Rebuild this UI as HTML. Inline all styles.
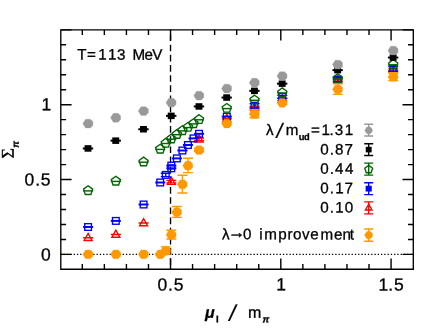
<!DOCTYPE html>
<html><head><meta charset="utf-8"><title>chart</title>
<style>html,body{margin:0;padding:0;background:#fff;}body{width:436px;height:331px;overflow:hidden;font-family:"Liberation Sans",sans-serif;}</style></head>
<body>
<svg width="436" height="331" viewBox="0 0 436 331" font-family="'Liberation Sans', sans-serif" style="display:block;will-change:transform">
<rect width="436" height="331" fill="#fff"/>
<line x1="60.54" y1="254.40" x2="413.30" y2="254.40" stroke="#000" stroke-width="1.3" stroke-dasharray="1.3 1.97"/>
<line x1="170.53" y1="29.80" x2="170.53" y2="269.20" stroke="#000" stroke-width="1.35" stroke-dasharray="6.6 3.57" stroke-dashoffset="5.45"/>
<g>
<path d="M88.10 233.40L92.10 240.50H84.10Z" stroke="#ff0000" stroke-width="1.35" fill="none" stroke-linejoin="miter"/>
<path d="M83.10 237.80H93.10" stroke="#ff0000" stroke-width="1.50" fill="none"/>
<path d="M115.84 230.10L119.84 237.20H111.84Z" stroke="#ff0000" stroke-width="1.35" fill="none" stroke-linejoin="miter"/>
<path d="M110.84 234.50H120.84" stroke="#ff0000" stroke-width="1.50" fill="none"/>
<path d="M143.57 218.60L147.57 225.70H139.57Z" stroke="#ff0000" stroke-width="1.35" fill="none" stroke-linejoin="miter"/>
<path d="M138.57 223.00H148.57" stroke="#ff0000" stroke-width="1.50" fill="none"/>
<path d="M171.31 177.20L175.31 184.30H167.31Z" stroke="#ff0000" stroke-width="1.35" fill="none" stroke-linejoin="miter"/>
<path d="M171.31 180.40V182.80M166.31 180.40H176.31M166.31 182.80H176.31" stroke="#ff0000" stroke-width="1.35" fill="none"/>
<path d="M199.05 134.90L203.05 142.00H195.05Z" stroke="#ff0000" stroke-width="1.35" fill="none" stroke-linejoin="miter"/>
<path d="M199.05 138.00V140.60M194.05 138.00H204.05M194.05 140.60H204.05" stroke="#ff0000" stroke-width="1.35" fill="none"/>
<path d="M226.79 114.40L230.79 121.50H222.79Z" stroke="#ff0000" stroke-width="1.35" fill="none" stroke-linejoin="miter"/>
<path d="M221.79 118.80H231.79" stroke="#ff0000" stroke-width="1.50" fill="none"/>
<path d="M254.52 103.40L258.52 110.50H250.52Z" stroke="#ff0000" stroke-width="1.35" fill="none" stroke-linejoin="miter"/>
<path d="M254.52 106.50V109.10M249.52 106.50H259.52M249.52 109.10H259.52" stroke="#ff0000" stroke-width="1.35" fill="none"/>
<path d="M282.26 94.90L286.26 102.00H278.26Z" stroke="#ff0000" stroke-width="1.35" fill="none" stroke-linejoin="miter"/>
<path d="M282.26 98.10V100.50M277.26 98.10H287.26M277.26 100.50H287.26" stroke="#ff0000" stroke-width="1.35" fill="none"/>
<path d="M337.74 75.60L341.74 82.70H333.74Z" stroke="#ff0000" stroke-width="1.35" fill="none" stroke-linejoin="miter"/>
<path d="M332.74 80.00H342.74" stroke="#ff0000" stroke-width="1.50" fill="none"/>
<path d="M393.21 65.60L397.21 72.70H389.21Z" stroke="#ff0000" stroke-width="1.35" fill="none" stroke-linejoin="miter"/>
<path d="M393.21 68.80V71.20M388.21 68.80H398.21M388.21 71.20H398.21" stroke="#ff0000" stroke-width="1.35" fill="none"/>
<rect x="84.75" y="223.65" width="6.70" height="6.70" stroke="#0000ff" stroke-width="1.35" fill="none"/>
<path d="M83.10 227.00H93.10" stroke="#0000ff" stroke-width="1.95" fill="none"/>
<rect x="112.49" y="217.55" width="6.70" height="6.70" stroke="#0000ff" stroke-width="1.35" fill="none"/>
<path d="M110.84 220.90H120.84" stroke="#0000ff" stroke-width="1.95" fill="none"/>
<rect x="140.22" y="201.15" width="6.70" height="6.70" stroke="#0000ff" stroke-width="1.35" fill="none"/>
<path d="M138.57 204.50H148.57" stroke="#0000ff" stroke-width="1.95" fill="none"/>
<rect x="156.87" y="179.15" width="6.70" height="6.70" stroke="#0000ff" stroke-width="1.35" fill="none"/>
<path d="M155.22 182.50H165.22" stroke="#0000ff" stroke-width="1.95" fill="none"/>
<rect x="162.41" y="171.55" width="6.70" height="6.70" stroke="#0000ff" stroke-width="1.35" fill="none"/>
<path d="M165.76 173.20V176.60M160.76 173.20H170.76M160.76 176.60H170.76" stroke="#0000ff" stroke-width="1.35" fill="none"/>
<rect x="167.96" y="164.95" width="6.70" height="6.70" stroke="#0000ff" stroke-width="1.35" fill="none"/>
<path d="M166.31 168.30H176.31" stroke="#0000ff" stroke-width="1.95" fill="none"/>
<rect x="167.96" y="162.25" width="6.70" height="6.70" stroke="#0000ff" stroke-width="1.35" fill="none"/>
<path d="M166.31 165.60H176.31" stroke="#0000ff" stroke-width="1.95" fill="none"/>
<rect x="173.51" y="155.05" width="6.70" height="6.70" stroke="#0000ff" stroke-width="1.35" fill="none"/>
<path d="M171.86 158.40H181.86" stroke="#0000ff" stroke-width="1.95" fill="none"/>
<rect x="179.06" y="147.15" width="6.70" height="6.70" stroke="#0000ff" stroke-width="1.35" fill="none"/>
<path d="M177.41 150.50H187.41" stroke="#0000ff" stroke-width="1.95" fill="none"/>
<rect x="184.60" y="141.65" width="6.70" height="6.70" stroke="#0000ff" stroke-width="1.35" fill="none"/>
<path d="M182.95 145.00H192.95" stroke="#0000ff" stroke-width="1.95" fill="none"/>
<rect x="190.15" y="135.05" width="6.70" height="6.70" stroke="#0000ff" stroke-width="1.35" fill="none"/>
<path d="M188.50 138.40H198.50" stroke="#0000ff" stroke-width="1.95" fill="none"/>
<rect x="195.70" y="130.45" width="6.70" height="6.70" stroke="#0000ff" stroke-width="1.35" fill="none"/>
<path d="M194.05 133.80H204.05" stroke="#0000ff" stroke-width="1.95" fill="none"/>
<rect x="223.44" y="113.25" width="6.70" height="6.70" stroke="#0000ff" stroke-width="1.35" fill="none"/>
<path d="M221.79 116.60H231.79" stroke="#0000ff" stroke-width="1.95" fill="none"/>
<rect x="251.17" y="102.35" width="6.70" height="6.70" stroke="#0000ff" stroke-width="1.35" fill="none"/>
<path d="M254.52 103.60V107.80M249.52 103.60H259.52M249.52 107.80H259.52" stroke="#0000ff" stroke-width="1.35" fill="none"/>
<rect x="278.91" y="93.45" width="6.70" height="6.70" stroke="#0000ff" stroke-width="1.35" fill="none"/>
<path d="M282.26 95.30V98.30M277.26 95.30H287.26M277.26 98.30H287.26" stroke="#0000ff" stroke-width="1.35" fill="none"/>
<rect x="334.38" y="76.25" width="6.70" height="6.70" stroke="#0000ff" stroke-width="1.35" fill="none"/>
<path d="M337.74 77.60V81.60M332.74 77.60H342.74M332.74 81.60H342.74" stroke="#0000ff" stroke-width="1.35" fill="none"/>
<rect x="389.86" y="65.45" width="6.70" height="6.70" stroke="#0000ff" stroke-width="1.35" fill="none"/>
<path d="M393.21 66.50V71.10M388.21 66.50H398.21M388.21 71.10H398.21" stroke="#0000ff" stroke-width="1.35" fill="none"/>
<path d="M88.10 185.80L92.66 189.12L90.92 194.48L85.28 194.48L83.53 189.12Z" stroke="#006400" stroke-width="1.35" fill="none" stroke-linejoin="miter"/>
<path d="M83.10 190.90H93.10" stroke="#006400" stroke-width="1.45" fill="none"/>
<path d="M115.84 176.30L120.40 179.62L118.66 184.98L113.01 184.98L111.27 179.62Z" stroke="#006400" stroke-width="1.35" fill="none" stroke-linejoin="miter"/>
<path d="M110.84 181.40H120.84" stroke="#006400" stroke-width="1.45" fill="none"/>
<path d="M143.57 157.10L148.14 160.42L146.39 165.78L140.75 165.78L139.01 160.42Z" stroke="#006400" stroke-width="1.35" fill="none" stroke-linejoin="miter"/>
<path d="M138.57 162.20H148.57" stroke="#006400" stroke-width="1.45" fill="none"/>
<path d="M160.22 144.30L164.78 147.62L163.04 152.98L157.39 152.98L155.65 147.62Z" stroke="#006400" stroke-width="1.35" fill="none" stroke-linejoin="miter"/>
<path d="M155.22 149.40H165.22" stroke="#006400" stroke-width="1.45" fill="none"/>
<path d="M165.76 138.40L170.33 141.72L168.58 147.08L162.94 147.08L161.20 141.72Z" stroke="#006400" stroke-width="1.35" fill="none" stroke-linejoin="miter"/>
<path d="M160.76 143.50H170.76" stroke="#006400" stroke-width="1.45" fill="none"/>
<path d="M171.31 134.10L175.88 137.42L174.13 142.78L168.49 142.78L166.74 137.42Z" stroke="#006400" stroke-width="1.35" fill="none" stroke-linejoin="miter"/>
<path d="M166.31 139.20H176.31" stroke="#006400" stroke-width="1.45" fill="none"/>
<path d="M176.86 129.60L181.42 132.92L179.68 138.28L174.04 138.28L172.29 132.92Z" stroke="#006400" stroke-width="1.35" fill="none" stroke-linejoin="miter"/>
<path d="M171.86 134.70H181.86" stroke="#006400" stroke-width="1.45" fill="none"/>
<path d="M182.41 125.80L186.97 129.12L185.23 134.48L179.58 134.48L177.84 129.12Z" stroke="#006400" stroke-width="1.35" fill="none" stroke-linejoin="miter"/>
<path d="M177.41 130.90H187.41" stroke="#006400" stroke-width="1.45" fill="none"/>
<path d="M187.95 122.50L192.52 125.82L190.77 131.18L185.13 131.18L183.39 125.82Z" stroke="#006400" stroke-width="1.35" fill="none" stroke-linejoin="miter"/>
<path d="M182.95 127.60H192.95" stroke="#006400" stroke-width="1.45" fill="none"/>
<path d="M193.50 118.80L198.07 122.12L196.32 127.48L190.68 127.48L188.93 122.12Z" stroke="#006400" stroke-width="1.35" fill="none" stroke-linejoin="miter"/>
<path d="M188.50 123.90H198.50" stroke="#006400" stroke-width="1.45" fill="none"/>
<path d="M199.05 114.70L203.61 118.02L201.87 123.38L196.23 123.38L194.48 118.02Z" stroke="#006400" stroke-width="1.35" fill="none" stroke-linejoin="miter"/>
<path d="M194.05 119.80H204.05" stroke="#006400" stroke-width="1.45" fill="none"/>
<path d="M226.79 103.50L231.35 106.82L229.61 112.18L223.96 112.18L222.22 106.82Z" stroke="#006400" stroke-width="1.35" fill="none" stroke-linejoin="miter"/>
<path d="M221.79 108.60H231.79" stroke="#006400" stroke-width="1.45" fill="none"/>
<path d="M254.52 95.20L259.09 98.52L257.34 103.88L251.70 103.88L249.96 98.52Z" stroke="#006400" stroke-width="1.35" fill="none" stroke-linejoin="miter"/>
<path d="M249.52 100.30H259.52" stroke="#006400" stroke-width="1.45" fill="none"/>
<path d="M282.26 87.90L286.83 91.22L285.08 96.58L279.44 96.58L277.69 91.22Z" stroke="#006400" stroke-width="1.35" fill="none" stroke-linejoin="miter"/>
<path d="M277.26 93.00H287.26" stroke="#006400" stroke-width="1.45" fill="none"/>
<path d="M337.74 73.80L342.30 77.12L340.56 82.48L334.91 82.48L333.17 77.12Z" stroke="#006400" stroke-width="1.35" fill="none" stroke-linejoin="miter"/>
<path d="M332.74 78.90H342.74" stroke="#006400" stroke-width="1.45" fill="none"/>
<path d="M393.21 59.70L397.78 63.02L396.03 68.38L390.39 68.38L388.64 63.02Z" stroke="#006400" stroke-width="1.35" fill="none" stroke-linejoin="miter"/>
<path d="M388.21 64.80H398.21" stroke="#006400" stroke-width="1.45" fill="none"/>
<rect x="84.55" y="145.20" width="6.90" height="6.50" fill="#000"/>
<path d="M82.80 148.45H93.20" stroke="#000" stroke-width="1.95" fill="none"/>
<rect x="112.29" y="137.40" width="6.90" height="6.50" fill="#000"/>
<path d="M110.54 140.65H120.94" stroke="#000" stroke-width="1.95" fill="none"/>
<rect x="140.02" y="126.00" width="6.90" height="6.50" fill="#000"/>
<path d="M138.27 129.25H148.67" stroke="#000" stroke-width="1.95" fill="none"/>
<rect x="167.76" y="112.60" width="6.90" height="6.50" fill="#000"/>
<path d="M166.01 115.85H176.41" stroke="#000" stroke-width="1.95" fill="none"/>
<rect x="195.50" y="103.20" width="6.90" height="6.50" fill="#000"/>
<path d="M193.75 106.45H204.15" stroke="#000" stroke-width="1.95" fill="none"/>
<rect x="223.24" y="94.30" width="6.90" height="6.50" fill="#000"/>
<path d="M221.49 97.55H231.89" stroke="#000" stroke-width="1.95" fill="none"/>
<rect x="250.97" y="87.60" width="6.90" height="6.50" fill="#000"/>
<path d="M249.22 90.85H259.62" stroke="#000" stroke-width="1.95" fill="none"/>
<rect x="278.71" y="80.40" width="6.90" height="6.50" fill="#000"/>
<path d="M276.96 83.65H287.36" stroke="#000" stroke-width="1.95" fill="none"/>
<rect x="334.19" y="66.90" width="6.90" height="6.50" fill="#000"/>
<path d="M332.44 70.15H342.83" stroke="#000" stroke-width="1.95" fill="none"/>
<rect x="389.66" y="54.30" width="6.90" height="6.50" fill="#000"/>
<path d="M387.91 57.55H398.31" stroke="#000" stroke-width="1.95" fill="none"/>
<path d="M82.80 123.55L85.60 119.15L90.30 119.15L92.85 121.60L92.85 125.40L90.30 127.95L85.60 127.95Z" fill="#999999" stroke="#999999" stroke-width="0.3" stroke-linejoin="round"/>
<path d="M110.54 117.75L113.34 113.35L118.04 113.35L120.59 115.80L120.59 119.60L118.04 122.15L113.34 122.15Z" fill="#999999" stroke="#999999" stroke-width="0.3" stroke-linejoin="round"/>
<path d="M138.27 111.05L141.07 106.65L145.77 106.65L148.32 109.10L148.32 112.90L145.77 115.45L141.07 115.45Z" fill="#999999" stroke="#999999" stroke-width="0.3" stroke-linejoin="round"/>
<path d="M166.01 102.65L168.81 98.25L173.51 98.25L176.06 100.70L176.06 104.50L173.51 107.05L168.81 107.05Z" fill="#999999" stroke="#999999" stroke-width="0.3" stroke-linejoin="round"/>
<path d="M193.75 95.65L196.55 91.25L201.25 91.25L203.80 93.70L203.80 97.50L201.25 100.05L196.55 100.05Z" fill="#999999" stroke="#999999" stroke-width="0.3" stroke-linejoin="round"/>
<path d="M221.49 88.55L224.29 84.15L228.99 84.15L231.54 86.60L231.54 90.40L228.99 92.95L224.29 92.95Z" fill="#999999" stroke="#999999" stroke-width="0.3" stroke-linejoin="round"/>
<path d="M249.22 82.65L252.02 78.25L256.72 78.25L259.27 80.70L259.27 84.50L256.72 87.05L252.02 87.05Z" fill="#999999" stroke="#999999" stroke-width="0.3" stroke-linejoin="round"/>
<path d="M276.96 76.10L279.76 71.70L284.46 71.70L287.01 74.15L287.01 77.95L284.46 80.50L279.76 80.50Z" fill="#999999" stroke="#999999" stroke-width="0.3" stroke-linejoin="round"/>
<path d="M332.44 64.55L335.24 60.15L339.94 60.15L342.49 62.60L342.49 66.40L339.94 68.95L335.24 68.95Z" fill="#999999" stroke="#999999" stroke-width="0.3" stroke-linejoin="round"/>
<path d="M387.91 50.55L390.71 46.15L395.41 46.15L397.96 48.60L397.96 52.40L395.41 54.95L390.71 54.95Z" fill="#999999" stroke="#999999" stroke-width="0.3" stroke-linejoin="round"/>
<path d="M82.80 254.30L85.60 249.90L90.30 249.90L92.85 252.35L92.85 256.15L90.30 258.70L85.60 258.70Z" fill="#ff9900" stroke="#ff9900" stroke-width="0.3" stroke-linejoin="round"/>
<path d="M110.54 254.30L113.34 249.90L118.04 249.90L120.59 252.35L120.59 256.15L118.04 258.70L113.34 258.70Z" fill="#ff9900" stroke="#ff9900" stroke-width="0.3" stroke-linejoin="round"/>
<path d="M138.27 254.30L141.07 249.90L145.77 249.90L148.32 252.35L148.32 256.15L145.77 258.70L141.07 258.70Z" fill="#ff9900" stroke="#ff9900" stroke-width="0.3" stroke-linejoin="round"/>
<path d="M154.91 254.30L157.72 249.90L162.41 249.90L164.97 252.35L164.97 256.15L162.41 258.70L157.72 258.70Z" fill="#ff9900" stroke="#ff9900" stroke-width="0.3" stroke-linejoin="round"/>
<path d="M160.46 250.75L163.26 246.35L167.96 246.35L170.51 248.80L170.51 252.60L167.96 255.15L163.26 255.15Z" fill="#ff9900" stroke="#ff9900" stroke-width="0.3" stroke-linejoin="round"/>
<path d="M165.76 246.90V254.10M160.76 246.90H170.76M160.76 254.10H170.76" stroke="#ff9900" stroke-width="1.35" fill="none"/>
<path d="M166.01 234.85L168.81 230.45L173.51 230.45L176.06 232.90L176.06 236.70L173.51 239.25L168.81 239.25Z" fill="#ff9900" stroke="#ff9900" stroke-width="0.3" stroke-linejoin="round"/>
<path d="M171.31 230.25V238.95M166.31 230.25H176.31M166.31 238.95H176.31" stroke="#ff9900" stroke-width="1.35" fill="none"/>
<path d="M171.56 212.15L174.36 207.75L179.06 207.75L181.61 210.20L181.61 214.00L179.06 216.55L174.36 216.55Z" fill="#ff9900" stroke="#ff9900" stroke-width="0.3" stroke-linejoin="round"/>
<path d="M176.86 206.50V217.30M171.86 206.50H181.86M171.86 217.30H181.86" stroke="#ff9900" stroke-width="1.35" fill="none"/>
<path d="M177.11 184.35L179.91 179.95L184.61 179.95L187.16 182.40L187.16 186.20L184.61 188.75L179.91 188.75Z" fill="#ff9900" stroke="#ff9900" stroke-width="0.3" stroke-linejoin="round"/>
<path d="M182.41 175.20V193.00M177.41 175.20H187.41M177.41 193.00H187.41" stroke="#ff9900" stroke-width="1.35" fill="none"/>
<path d="M182.65 165.65L185.45 161.25L190.15 161.25L192.70 163.70L192.70 167.50L190.15 170.05L185.45 170.05Z" fill="#ff9900" stroke="#ff9900" stroke-width="0.3" stroke-linejoin="round"/>
<path d="M187.95 158.20V172.60M182.95 158.20H192.95M182.95 172.60H192.95" stroke="#ff9900" stroke-width="1.35" fill="none"/>
<path d="M193.75 150.15L196.55 145.75L201.25 145.75L203.80 148.20L203.80 152.00L201.25 154.55L196.55 154.55Z" fill="#ff9900" stroke="#ff9900" stroke-width="0.3" stroke-linejoin="round"/>
<path d="M199.05 148.20V151.60M194.05 148.20H204.05M194.05 151.60H204.05" stroke="#ff9900" stroke-width="1.35" fill="none"/>
<path d="M221.49 123.55L224.29 119.15L228.99 119.15L231.54 121.60L231.54 125.40L228.99 127.95L224.29 127.95Z" fill="#ff9900" stroke="#ff9900" stroke-width="0.3" stroke-linejoin="round"/>
<path d="M249.22 114.00L252.02 109.60L256.72 109.60L259.27 112.05L259.27 115.85L256.72 118.40L252.02 118.40Z" fill="#ff9900" stroke="#ff9900" stroke-width="0.3" stroke-linejoin="round"/>
<path d="M254.52 109.75V117.75M249.52 109.75H259.52M249.52 117.75H259.52" stroke="#ff9900" stroke-width="1.35" fill="none"/>
<path d="M276.96 102.95L279.76 98.55L284.46 98.55L287.01 101.00L287.01 104.80L284.46 107.35L279.76 107.35Z" fill="#ff9900" stroke="#ff9900" stroke-width="0.3" stroke-linejoin="round"/>
<path d="M332.44 89.35L335.24 84.95L339.94 84.95L342.49 87.40L342.49 91.20L339.94 93.75L335.24 93.75Z" fill="#ff9900" stroke="#ff9900" stroke-width="0.3" stroke-linejoin="round"/>
<path d="M337.74 83.90V94.30M332.74 83.90H342.74M332.74 94.30H342.74" stroke="#ff9900" stroke-width="1.35" fill="none"/>
<path d="M387.91 76.90L390.71 72.50L395.41 72.50L397.96 74.95L397.96 78.75L395.41 81.30L390.71 81.30Z" fill="#ff9900" stroke="#ff9900" stroke-width="0.3" stroke-linejoin="round"/>
<path d="M393.21 72.70V80.60M388.21 72.70H398.21M388.21 80.60H398.21" stroke="#ff9900" stroke-width="1.35" fill="none"/>
</g>
<path d="M61.4 254.35H65.3" stroke="#ff9900" stroke-width="1.5"/>
<path d="M60.80 29.80H413.30V269.20H60.80Z" fill="none" stroke="#000" stroke-width="1.35" stroke-linejoin="miter"/>
<path d="M82.31 269.20v-5.3M82.31 29.80v5.3M104.36 269.20v-5.3M104.36 29.80v5.3M126.42 269.20v-5.3M126.42 29.80v5.3M148.47 269.20v-5.3M148.47 29.80v5.3M170.53 269.20v-10.8M170.53 29.80v10.8M192.58 269.20v-5.3M192.58 29.80v5.3M214.63 269.20v-5.3M214.63 29.80v5.3M236.69 269.20v-5.3M236.69 29.80v5.3M258.75 269.20v-5.3M258.75 29.80v5.3M280.80 269.20v-10.8M280.80 29.80v10.8M302.86 269.20v-5.3M302.86 29.80v5.3M324.91 269.20v-5.3M324.91 29.80v5.3M346.97 269.20v-5.3M346.97 29.80v5.3M369.02 269.20v-5.3M369.02 29.80v5.3M391.08 269.20v-10.8M391.08 29.80v10.8M60.80 254.40h10.8M413.30 254.40h-10.8M60.80 239.43h5.3M413.30 239.43h-5.3M60.80 224.46h5.3M413.30 224.46h-5.3M60.80 209.49h5.3M413.30 209.49h-5.3M60.80 194.52h5.3M413.30 194.52h-5.3M60.80 179.55h10.8M413.30 179.55h-10.8M60.80 164.58h5.3M413.30 164.58h-5.3M60.80 149.61h5.3M413.30 149.61h-5.3M60.80 134.64h5.3M413.30 134.64h-5.3M60.80 119.67h5.3M413.30 119.67h-5.3M60.80 104.70h10.8M413.30 104.70h-10.8M60.80 89.73h5.3M413.30 89.73h-5.3M60.80 74.76h5.3M413.30 74.76h-5.3M60.80 59.79h5.3M413.30 59.79h-5.3M60.80 44.82h5.3M413.30 44.82h-5.3M60.80 29.85h10.8M413.30 29.85h-10.8" fill="none" stroke="#000" stroke-width="1.4"/>
<text transform="rotate(0.05 24.5 185.4)" stroke="#000" stroke-width="0.3"><tspan x="24.48 35.37 40.80" y="185.45 185.45 185.45" font-size="17.5">0.5</tspan></text>
<text transform="rotate(0.05 40.9 260.5)" stroke="#000" stroke-width="0.3"><tspan x="40.88" y="260.50" font-size="17.5">0</tspan></text>
<text transform="rotate(0.05 41.4 110.3)" stroke="#000" stroke-width="0.3"><tspan x="41.39" y="110.30" font-size="17.5">1</tspan></text>
<text transform="rotate(0.05 157.4 290.4)" stroke="#000" stroke-width="0.3"><tspan x="157.43 168.02 173.85" y="290.45 290.45 290.45" font-size="17.5">0.5</tspan></text>
<text transform="rotate(0.05 276.2 290.3)" stroke="#000" stroke-width="0.3"><tspan x="276.19" y="290.30" font-size="17.5">1</tspan></text>
<text transform="rotate(0.05 378.5 290.4)" stroke="#000" stroke-width="0.3"><tspan x="378.54 388.37 393.95" y="290.45 290.45 290.45" font-size="17.5">1.5</tspan></text>
<text transform="rotate(0.05 77.2 59.6)" stroke="#000" stroke-width="0.3"><tspan x="77.16 87.12 98.17 107.97 116.92 125.37 132.52 144.59 152.28" y="59.60 59.60 59.60 59.60 59.60 59.60 59.60 59.60 59.60" font-size="15.2">T=113 MeV</tspan></text>
<text transform="rotate(0.05 265.9 134.9)" stroke="#000" stroke-width="0.3"><tspan x="265.91" y="134.90" font-size="15.2">λ</tspan><tspan x="276.55" y="137.80" font-size="20.5" font-style="italic">/</tspan><tspan x="285.72" y="134.90" font-size="15.2">m</tspan><tspan x="298.78 304.08" y="140.00 140.00" font-size="9.3" font-weight="bold">ud</tspan><tspan x="310.92 321.57 329.59 334.72 344.87" y="134.90 134.90 134.90 134.90 134.90" font-size="15.2">=1.31</tspan></text>
<text transform="rotate(0.05 320.4 154.6)" stroke="#000" stroke-width="0.3"><tspan x="320.37 329.84 335.07 344.47" y="154.60 154.60 154.60 154.60" font-size="15.2">0.87</tspan></text>
<text transform="rotate(0.05 320.4 173.7)" stroke="#000" stroke-width="0.3"><tspan x="320.37 329.84 335.12 344.92" y="173.70 173.70 173.70 173.70" font-size="15.2">0.44</tspan></text>
<text transform="rotate(0.05 320.4 193.2)" stroke="#000" stroke-width="0.3"><tspan x="320.37 329.84 335.37 344.47" y="193.20 193.20 193.20 193.20" font-size="15.2">0.17</tspan></text>
<text transform="rotate(0.05 320.4 212.4)" stroke="#000" stroke-width="0.3"><tspan x="320.37 329.84 335.37 344.87" y="212.40 212.40 212.40 212.40" font-size="15.2">0.10</tspan></text>
<text transform="rotate(0.05 222.1 239.3)" stroke="#000" stroke-width="0.3"><tspan x="222.06" y="239.30" font-size="15.2">λ</tspan><tspan x="228.00" y="238.00" font-size="17.2" font-weight="bold" stroke-width="0.35">→</tspan><tspan x="243.07 251.53 259.22 264.17 278.30 287.39 292.97 302.05 310.34 320.42 334.14 342.61 349.83" y="239.30 239.30 239.30 239.30 239.30 239.30 239.30 239.30 239.30 239.30 239.30 239.30 239.30" font-size="15.2">0 improvement</tspan></text>
<path d="M368.70 124.20V136.00M364.20 124.20H373.20M364.20 136.00H373.20" stroke="#999999" stroke-width="1.35" fill="none"/>
<path d="M364.71 130.39L366.82 127.08L370.36 127.08L372.27 128.92L372.27 131.78L370.36 133.70L366.82 133.70Z" fill="#999999" stroke="#999999" stroke-width="0.3" stroke-linejoin="round"/>
<path d="M368.70 143.70V155.50M364.20 143.70H373.20M364.20 155.50H373.20" stroke="#000" stroke-width="1.35" fill="none"/>
<rect x="365.73" y="146.80" width="5.94" height="5.60" fill="#000"/>
<path d="M368.70 163.15V175.15M364.20 163.15H373.20M364.20 175.15H373.20" stroke="#006400" stroke-width="1.35" fill="none"/>
<path d="M368.70 165.35L372.60 168.18L371.11 172.77L366.29 172.77L364.80 168.18Z" stroke="#006400" stroke-width="1.35" fill="none" stroke-linejoin="miter"/>
<path d="M368.70 182.75V194.55M364.20 182.75H373.20M364.20 194.55H373.20" stroke="#0000ff" stroke-width="1.35" fill="none"/>
<rect x="365.62" y="185.75" width="6.16" height="5.80" fill="#0000ff"/>
<path d="M368.70 201.80V213.80M364.20 201.80H373.20M364.20 213.80H373.20" stroke="#ff0000" stroke-width="1.35" fill="none"/>
<path d="M368.70 204.19L371.98 210.01H365.42Z" stroke="#ff0000" stroke-width="1.35" fill="none" stroke-linejoin="miter"/>
<path d="M368.70 229.00V241.20M364.20 229.00H373.20M364.20 241.20H373.20" stroke="#ff9900" stroke-width="1.35" fill="none"/>
<path d="M364.45 235.10L366.70 231.57L370.46 231.57L372.51 233.54L372.51 236.58L370.46 238.63L366.70 238.63Z" fill="#ff9900" stroke="#ff9900" stroke-width="0.3" stroke-linejoin="round"/>
<text transform="rotate(0.05 205.0 317.7)" stroke="#000" stroke-width="0.3"><tspan x="204.96" y="317.70" font-size="16" font-weight="bold" font-style="italic">μ</tspan><tspan x="215.97" y="322.20" font-size="9.6" font-weight="bold">I</tspan><tspan x="218.63" y="317.70" font-size="16.5"> </tspan><tspan x="229.19" y="320.80" font-size="22.5" font-style="italic">/</tspan><tspan x="235.45" y="317.70" font-size="16.5"> </tspan><tspan x="248.03" y="317.70" font-size="16">m</tspan><tspan x="262.42" y="322.50" font-size="9.5" font-weight="bold" font-style="italic">π</tspan></text>
<g transform="translate(13.6,0) rotate(-90.05)"><text transform="rotate(0 -158.5 0.0)" stroke="#000" stroke-width="0.3"><tspan x="-158.49" y="0.00" font-size="18" font-family="'Liberation Serif', serif">Σ</tspan><tspan x="-147.78" y="4.90" font-size="9.5" font-weight="bold" font-style="italic">π</tspan></text></g>
</svg>
</body></html>
